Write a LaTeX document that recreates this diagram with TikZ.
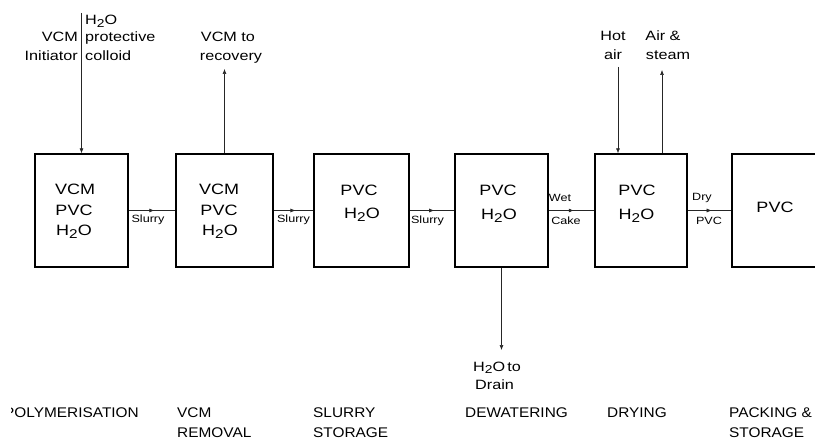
\documentclass[tikz,border=0pt]{standalone}
\usepackage{graphicx}
\usepackage{fontspec}
\setmainfont{Liberation Sans}
\newfontfamily\wideA[FakeStretch=1.2]{Liberation Sans}
\newfontfamily\wideB[FakeStretch=1.1]{Liberation Sans}
\usetikzlibrary{arrows.meta,decorations.markings}
\newcommand\Htwo{H\raisebox{-0.35ex}{\scalebox{0.85}{2}}O}
\begin{document}
\begin{tikzpicture}[x=1pt,y=-1pt,
  stagebox/.style={draw, line width=1.3pt, minimum width=#1, minimum height=113pt, inner sep=0pt},
  flow/.style={line width=0.6pt, draw=black!85},
  tip/.style={-{Latex[length=5pt,width=4pt]}},
  midarrow/.style={postaction={decorate}, decoration={markings, mark=at position 0.55 with {\arrow{Latex[length=5pt,width=4pt]}}}},
  boxt/.style={font=\wideA\fontsize{15}{18}\selectfont, anchor=base, inner sep=0pt},
  lbl/.style={font=\wideA\fontsize{13.5}{16}\selectfont, inner sep=0pt},
  tinyl/.style={font=\wideA\fontsize{10.5}{12}\selectfont, inner sep=0pt, anchor=base},
  stg/.style={font=\wideB\fontsize{14}{16}\selectfont, inner sep=0pt, anchor=base west},
]
\useasboundingbox (0,0) rectangle (815,441);
\clip (0,0) rectangle (815,441);

% boxes
\node[stagebox=93pt]  (b1) at (81.5,210.5) {};
\node[stagebox=97pt]  (b2) at (224.5,210.5) {};
\node[stagebox=95pt]  (b3) at (361.5,210.5) {};
\node[stagebox=93pt]  (b4) at (501.5,210.5) {};
\node[stagebox=92pt]  (b5) at (641,210.5) {};
\node[stagebox=120pt] (b6) at (792,210.5) {};

% box contents
\node[boxt] (t1a) at (75,194.5) {VCM};
\node[boxt] (t1b) at (74,215.5) {PVC};
\node[boxt] (t1c) at (74,235.5) {\Htwo};
\node[boxt] (t2a) at (219,194.5) {VCM};
\node[boxt] (t2b) at (219,215.5) {PVC};
\node[boxt] (t2c) at (220,235.5) {\Htwo};
\node[boxt] (t3a) at (359,195.5) {PVC};
\node[boxt] (t3b) at (362,218.5) {\Htwo};
\node[boxt] (t4a) at (498,195.5) {PVC};
\node[boxt] (t4b) at (499,220) {\Htwo};
\node[boxt] (t5a) at (637,195.5) {PVC};
\node[boxt] (t5b) at (636.5,220) {\Htwo};
\node[boxt] (t6a) at (775,212.5) {PVC};

% horizontal flows
\draw[flow,midarrow] (b1.east) -- (b2.west);
\draw[flow,midarrow] (b2.east) -- (b3.west);
\draw[flow,midarrow] (b3.east) -- (b4.west);
\draw[flow,midarrow] (b4.east) -- (b5.west);
\draw[flow,midarrow] (b5.east) -- (b6.west);
\node[tinyl] (s1) at (148,223) {Slurry};
\node[tinyl] (s2) at (293.5,223) {Slurry};
\node[tinyl] (s3) at (427.5,223.5) {Slurry};
\node[tinyl] (wet) at (560,201.5) {Wet};
\node[tinyl] (cake) at (566,224.5) {Cake};
\node[tinyl] (dry) at (702,200.5) {Dry};
\node[tinyl] (dpvc) at (709,224.5) {PVC};

% vertical flows
\coordinate (feed) at (81.5,13);
\draw[flow,tip] (feed) -- (b1.north);
\coordinate (recov) at (224.5,69);
\draw[flow,tip] (b2.north) -- (recov);
\coordinate (hotin) at (618,67);
\draw[flow,tip] (hotin) -- (hotin |- b5.north);
\coordinate (stmout) at (662,70);
\draw[flow,tip] (stmout |- b5.north) -- (stmout);
\coordinate (drain) at (501.5,350);
\draw[flow,tip] (b4.south) -- (drain);

% top labels
\node[lbl, anchor=base west] (lh2o) at (85,25) {\Htwo};
\node[lbl, anchor=base east] (lvcm) at (78,42) {VCM};
\node[lbl, anchor=base west] (lprot) at (85,42) {protective};
\node[lbl, anchor=base east] (linit) at (78,61) {Initiator};
\node[lbl, anchor=base west] (lcoll) at (85,61) {colloid};
\node[lbl, anchor=base] (lvto) at (228,42) {VCM to};
\node[lbl, anchor=base] (lrec) at (231,61) {recovery};
\node[lbl, anchor=base] (lhot) at (613,41) {Hot};
\node[lbl, anchor=base] (lair) at (613,60) {air};
\node[lbl, anchor=base] (laira) at (663,41) {Air \&};
\node[lbl, anchor=base] (lstm) at (668,60) {steam};
\node[lbl, anchor=base west] (ldr1) at (473,371) {\Htwo\,to};
\node[lbl, anchor=base west] (ldr2) at (475,389) {Drain};

% stage names
\begin{scope}
  \clip (11,395) rectangle (160,425);
  \node[stg, anchor=base east] (g1) at (139,417) {POLYMERISATION};
\end{scope}
\node[stg] (g2a) at (177,417) {VCM};
\node[stg] (g2b) at (177,437) {REMOVAL};
\node[stg] (g3a) at (313,417) {SLURRY};
\node[stg] (g3b) at (313,437) {STORAGE};
\node[stg] (g4) at (465,417) {DEWATERING};
\node[stg] (g5) at (607,417) {DRYING};
\node[stg] (g6a) at (729,417) {PACKING \&};
\node[stg] (g6b) at (729,437) {STORAGE};
\end{tikzpicture}
\end{document}
